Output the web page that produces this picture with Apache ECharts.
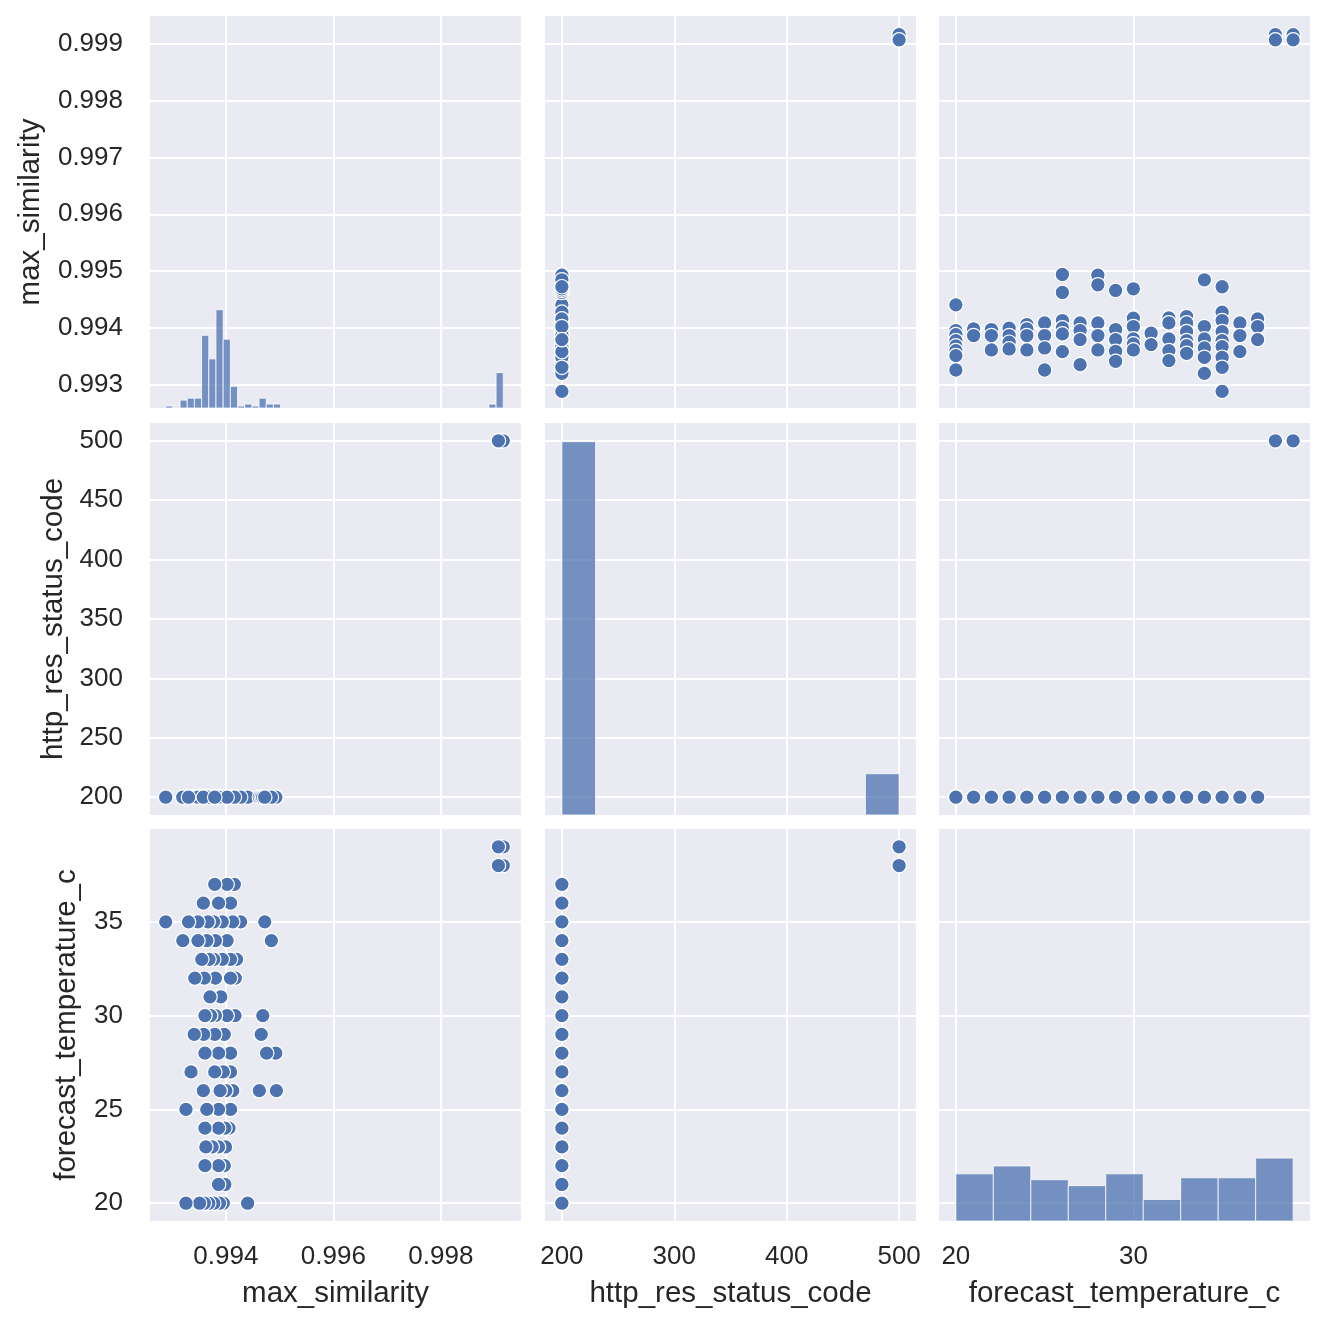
<!DOCTYPE html>
<html><head><meta charset="utf-8">
<script src="https://cdn.jsdelivr.net/npm/echarts@6/dist/echarts.min.js"></script>
<style>html,body{margin:0;padding:0;background:#fff}#c{width:1326px;height:1324px}</style>
</head><body><div id="c"></div><script>
// ---- data ----
const varNames = ['max_similarity', 'http_res_status_code', 'forecast_temperature_c'];

const maxSimilarity = [
  0.994406, 0.993953, 0.993882, 0.993776, 0.993682, 0.993600, 0.993512, 0.993259,
  0.993982, 0.993865,
  0.993971, 0.993865, 0.993612,
  0.993994, 0.993865, 0.993747, 0.993629,
  0.994059, 0.993982, 0.993865, 0.993612,
  0.994088, 0.993865, 0.993647, 0.993259,
  0.994941, 0.994624, 0.994129, 0.994000, 0.993894, 0.993582,
  0.994088, 0.993953, 0.993794, 0.993353,
  0.994929, 0.994759, 0.994088, 0.993865, 0.993612,
  0.994659, 0.993971, 0.993794, 0.993588, 0.993412,
  0.994688, 0.994171, 0.994024, 0.993806, 0.993718, 0.993612,
  0.993906, 0.993706,
  0.994176, 0.994088, 0.993806, 0.993600, 0.993424,
  0.994200, 0.994088, 0.993935, 0.993776, 0.993688, 0.993553,
  0.994847, 0.994024, 0.993806, 0.993647, 0.993482, 0.993200,
  0.994724, 0.994276, 0.994129, 0.993935, 0.993776, 0.993671, 0.993482, 0.993306, 0.992882,
  0.994088, 0.993865, 0.993582,
  0.994159, 0.994024, 0.993794,
  0.999160, 0.999070,
  0.999160, 0.999070
];
const forecastTemperature = [
  20,20,20,20,20,20,20,20,
  21,21,
  22,22,22,
  23,23,23,23,
  24,24,24,24,
  25,25,25,25,
  26,26,26,26,26,26,
  27,27,27,27,
  28,28,28,28,28,
  29,29,29,29,29,
  30,30,30,30,30,30,
  31,31,
  32,32,32,32,32,
  33,33,33,33,33,33,
  34,34,34,34,34,34,
  35,35,35,35,35,35,35,35,35,
  36,36,36,
  37,37,37,
  38,38,
  39,39
];
const httpStatusCode = forecastTemperature.map(t => (t >= 38 ? 500 : 200));

// histogram counts (diagonal)
const simHistCounts = [1,0,4,5,5,37,25,50,35,11,1,2,1,5,2,2,
  0,0,0,0,0,0,0,0,0,0,0,0,0,0,0,0,0,0,0,0,0,0,0,0,0,0,0,0,0,
  2,18];
const httpHistCounts = [190,0,0,0,0,0,0,0,0,21];
const tempHistCounts = [24,28,21,18,24,11,22,22,32];

// axis ranges
const axisRanges = [[0.99259, 0.99949], [185, 515], [19.05, 39.95]];
const xSplit = [3, 3, 2];
const ySplit = [7, 6, 4];

// ---- layout ----
const colLeft = [150, 545, 939], panelW = 371;
const rowTop = [16, 423, 829], panelH = 392;
const FONT = 'Liberation Sans, Arial, Helvetica, sans-serif';
const TXT = '#262626';
const blue = '#4C72B0';

const values = [maxSimilarity, httpStatusCode, forecastTemperature];
function edges(lo, hi, n) { const e = []; for (let i = 0; i <= n; i++) e.push(lo + (hi - lo) * i / n); return e; }
const simMin = Math.min(...maxSimilarity), simMax = Math.max(...maxSimilarity);
const histEdges = [
  edges(simMin, simMax, simHistCounts.length),
  edges(200, 500, httpHistCounts.length),
  edges(20, 39, tempHistCounts.length)
];
const histCounts = [simHistCounts, httpHistCounts, tempHistCounts];
const diagMax = Math.max(...simHistCounts, ...httpHistCounts, ...tempHistCounts) * 1.05;
const yNameGap = [104, 81, 68];

const grids = [], xAxes = [], yAxes = [], series = [];
for (let r = 0; r < 3; r++) {
  for (let c = 0; c < 3; c++) {
    const g = r * 3 + c;
    grids.push({left: colLeft[c], top: rowTop[r], width: panelW, height: panelH,
      show: true, backgroundColor: '#EAEAF2', borderWidth: 0});
    xAxes.push({
      gridIndex: g, type: 'value', min: axisRanges[c][0], max: axisRanges[c][1], splitNumber: xSplit[c],
      axisLine: {show: false}, axisTick: {show: false},
      axisLabel: {show: r === 2, showMinLabel: false, showMaxLabel: false, fontSize: 26, color: TXT, fontFamily: FONT, margin: 23},
      splitLine: {show: true, showMinLine: false, showMaxLine: false, lineStyle: {color: '#ffffff', width: 2}},
      name: r === 2 ? varNames[c] : '', nameLocation: 'middle', nameGap: 58,
      nameTextStyle: {fontSize: 29.5, color: TXT, fontFamily: FONT}
    });
    yAxes.push({
      gridIndex: g, type: 'value', min: axisRanges[r][0], max: axisRanges[r][1], splitNumber: ySplit[r],
      axisLine: {show: false}, axisTick: {show: false},
      axisLabel: {show: c === 0, showMinLabel: false, showMaxLabel: false, fontSize: 26, color: TXT, fontFamily: FONT, margin: 27},
      splitLine: {show: true, showMinLine: false, showMaxLine: false, lineStyle: {color: '#ffffff', width: 2}},
      name: c === 0 ? varNames[r] : '', nameLocation: 'middle', nameGap: yNameGap[r],
      nameTextStyle: {fontSize: 29.5, color: TXT, fontFamily: FONT}
    });
  }
}
// hidden count axes for the diagonal histograms
for (let d = 0; d < 3; d++) {
  yAxes.push({gridIndex: d * 4, type: 'value', min: 0, max: diagMax, show: false});
}

for (let r = 0; r < 3; r++) {
  for (let c = 0; c < 3; c++) {
    const g = r * 3 + c;
    if (r === c) {
      const e = histEdges[c], cnt = histCounts[c];
      series.push({
        type: 'custom', xAxisIndex: g, yAxisIndex: 9 + r,
        data: cnt.map((v, i) => [e[i], e[i + 1], v]).filter(d => d[2] > 0),
        encode: {x: [0, 1], y: 2},
        renderItem: function (params, api) {
          const p0 = api.coord([api.value(0), 0]);
          const p1 = api.coord([api.value(1), api.value(2)]);
          return {type: 'rect',
            shape: {x: p0[0], y: p1[1], width: p1[0] - p0[0], height: p0[1] - p1[1]},
            style: {fill: 'rgba(76,114,176,0.75)', stroke: 'rgba(255,255,255,0.75)', lineWidth: 1}};
        },
        silent: true
      });
    } else {
      const xs = values[c], ys = values[r];
      series.push({
        type: 'scatter', xAxisIndex: g, yAxisIndex: g,
        data: xs.map((v, i) => [v, ys[i]]),
        symbolSize: 14.5,
        itemStyle: {color: blue, borderColor: '#ffffff', borderWidth: 1.2, opacity: 1},
        silent: true
      });
    }
  }
}

const chart = echarts.init(document.getElementById('c'), null, {renderer: 'canvas'});
chart.setOption({backgroundColor: '#ffffff', animation: false, grid: grids, xAxis: xAxes, yAxis: yAxes, series: series});
</script></body></html>
